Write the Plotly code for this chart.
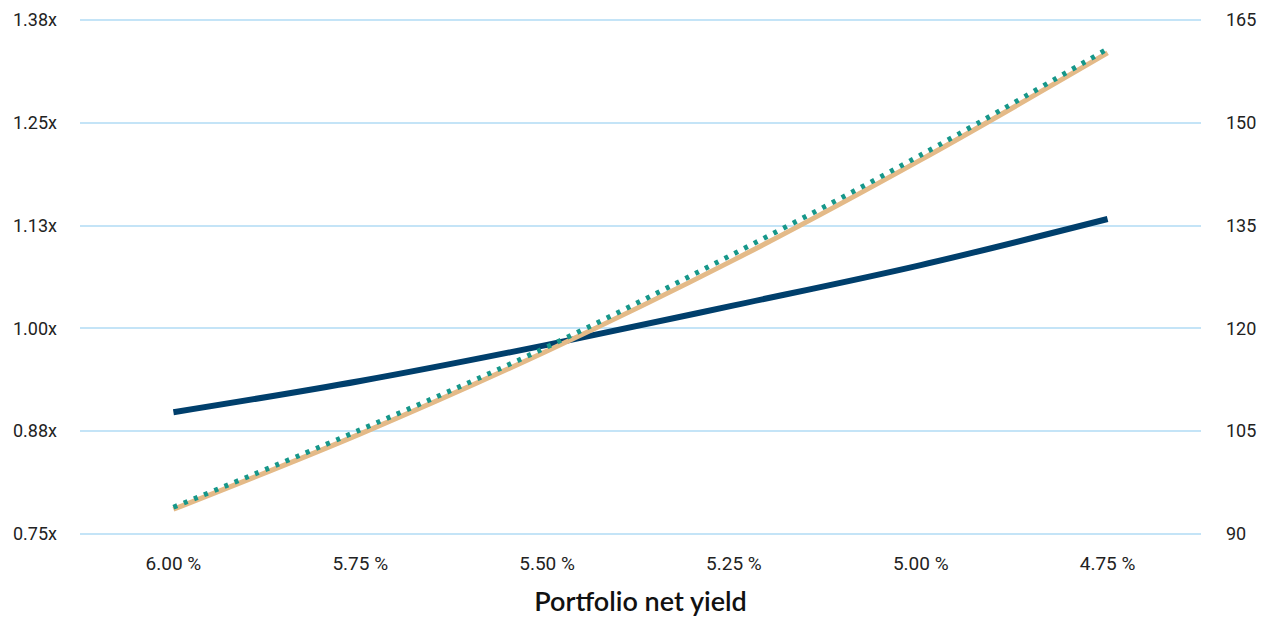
import plotly.graph_objects as go

categories = ["6.00 %", "5.75 %", "5.50 %", "5.25 %", "5.00 %", "4.75 %"]
multiple = [0.898, 0.936, 0.980, 1.028, 1.077, 1.133]          # left axis (x)
value_solid = [93.6, 104.6, 116.7, 130.0, 144.6, 160.2]        # right axis
value_dotted = [93.9, 105.2, 117.3, 130.9, 145.3, 160.8]       # right axis

left_ticks = [0.75, 0.875, 1.0, 1.125, 1.25, 1.375]
left_text = ["0.75x", "0.88x", "1.00x", "1.13x", "1.25x", "1.38x"]
right_ticks = [90, 105, 120, 135, 150, 165]

fig = go.Figure()
fig.add_trace(go.Scatter(x=categories, y=value_solid, mode="lines", yaxis="y2",
                         line=dict(color="#E4BA88", width=5, shape="spline"),
                         showlegend=False, hoverinfo="skip"))
fig.add_trace(go.Scatter(x=categories, y=value_dotted, mode="lines", yaxis="y2",
                         line=dict(color="#16978A", width=5, shape="spline", dash="4px,7px"),
                         showlegend=False, hoverinfo="skip"))
fig.add_trace(go.Scatter(x=categories, y=multiple, mode="lines",
                         line=dict(color="#003F6C", width=6, shape="spline"),
                         showlegend=False, hoverinfo="skip"))

tickfont = dict(family="Roboto", size=18, color="#222222")
fig.update_layout(
    width=1273, height=619,
    margin=dict(l=72, r=80, t=10, b=91, autoexpand=False),
    paper_bgcolor="white", plot_bgcolor="white",
    xaxis=dict(type="category", range=[-0.5, 5.5], showgrid=False, zeroline=False,
               showline=False, ticks="", tickfont=dict(family="Liberation Sans Narrow, Roboto", size=19, color="#222222"),
               ticklabelstandoff=14, automargin=False,
               title=dict(text="Portfolio net yield", font=dict(family="Liberation Sans Narrow, Lato", size=27, color="#111111", weight=600),
                          standoff=18)),
    yaxis=dict(range=[0.7475, 1.3775], tickvals=left_ticks, ticktext=left_text,
               showgrid=True, gridcolor="#C4E4F7", gridwidth=1.5, zeroline=False, showline=False,
               ticks="", tickfont=tickfont, ticklabelstandoff=22, automargin=False),
    yaxis2=dict(range=[89.7, 165.3], tickvals=right_ticks, overlaying="y", side="right",
                showgrid=False, zeroline=False, showline=False, ticks="",
                tickfont=tickfont, ticklabelstandoff=24, automargin=False),
)
fig.write_html("out.html")
